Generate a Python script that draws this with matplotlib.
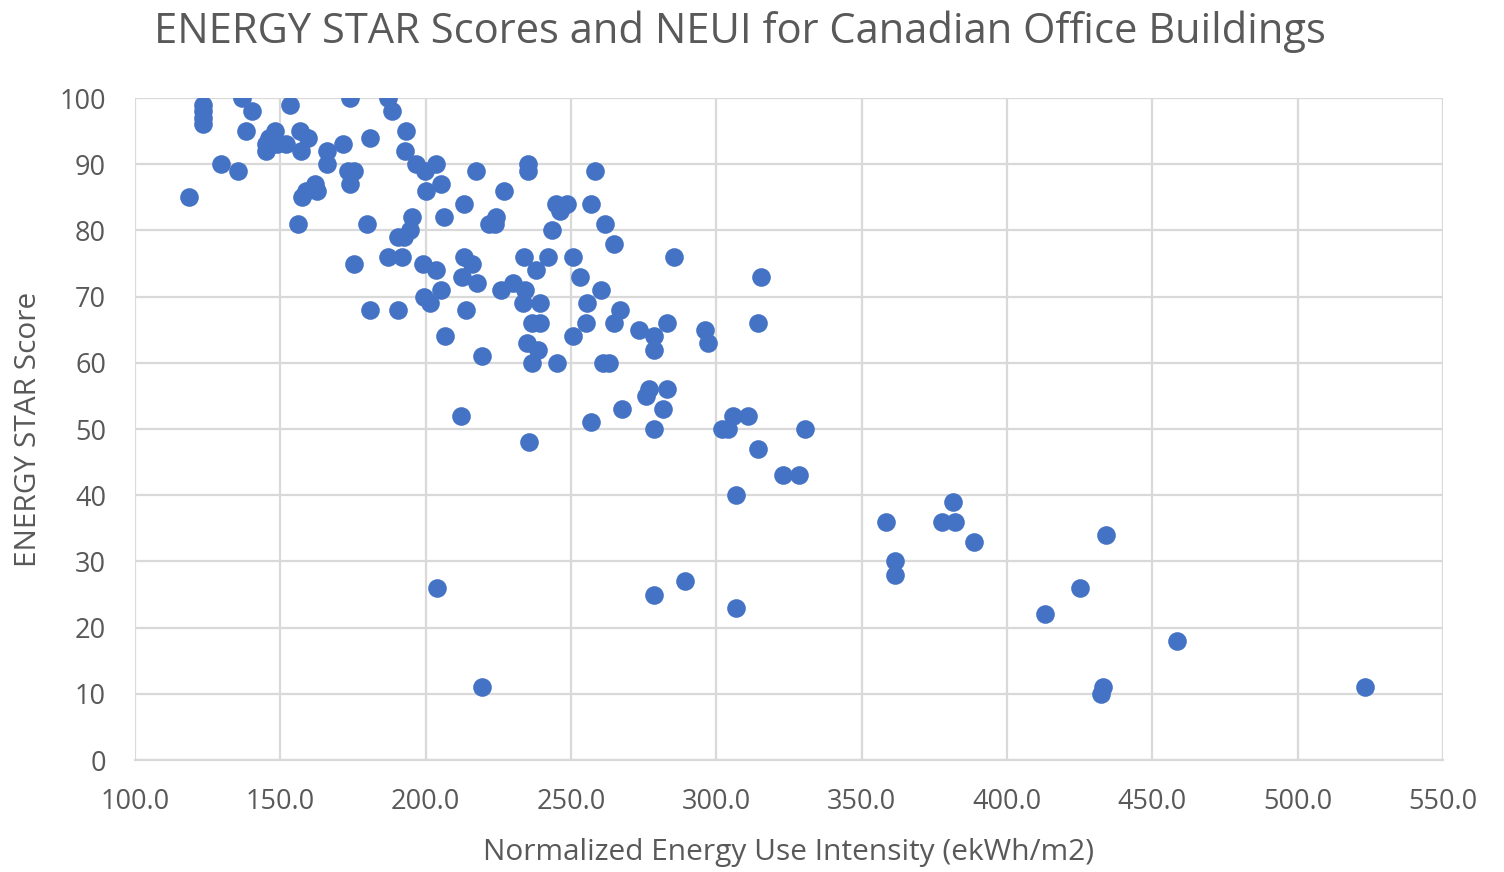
import matplotlib

matplotlib.use("Agg")

import matplotlib.pyplot as plt
import numpy as np
from matplotlib.ticker import FormatStrFormatter

# Normalized energy use intensity (ekWh/m2) and ENERGY STAR score
neui = [
    118.6, 123.4, 123.4, 123.4, 123.4, 136.8, 140.2, 138.0, 129.6, 135.4,
    145.0, 145.0, 147.0, 148.0, 149.0, 152.0, 146.0, 153.4, 156.8, 159.6,
    157.0, 156.0, 157.4, 158.8, 162.0, 162.7, 166.0, 166.0, 171.5, 174.0,
    173.3, 175.3, 174.0, 175.3, 180.8, 179.8, 180.8, 187.0, 188.4, 193.2,
    192.9, 196.7, 199.7, 203.4, 205.1, 200.0, 195.2, 190.4, 192.4, 194.5,
    187.0, 191.8, 198.9, 203.7, 206.2, 190.4, 199.3, 201.4, 205.1, 206.5,
    203.9, 212.1, 213.2, 213.2, 216.0, 212.5, 213.9, 217.3, 217.6, 219.4,
    219.4, 221.8, 224.2, 224.0, 227.0, 226.0, 230.1, 233.9, 234.2, 233.5,
    235.2, 235.2, 234.8, 235.5, 237.9, 236.5, 239.3, 238.6, 236.5, 239.3,
    242.1, 243.5, 244.8, 246.2, 248.6, 245.2, 250.6, 250.6, 253.0, 255.5,
    255.1, 256.8, 256.8, 258.2, 260.3, 261.7, 261.0, 263.1, 264.8, 264.8,
    266.9, 267.6, 273.4, 275.8, 276.8, 278.6, 278.6, 278.6, 278.6, 281.6,
    283.0, 283.0, 285.4, 289.2, 296.1, 297.1, 301.9, 303.9, 305.7, 306.7,
    306.7, 310.9, 314.3, 314.3, 315.3, 322.9, 328.4, 330.6, 358.3, 361.4,
    361.4, 377.6, 382.1, 381.4, 388.6, 413.0, 425.0, 434.0, 432.3, 433.0,
    458.4, 523.1,
]
score = [
    85, 99, 98, 97, 96, 100, 98, 95, 90, 89,
    93, 92, 94, 95, 93, 93, 94, 99, 95, 94,
    92, 81, 85, 86, 87, 86, 92, 90, 93, 100,
    89, 89, 87, 75, 94, 81, 68, 100, 98, 95,
    92, 90, 89, 90, 87, 86, 82, 79, 79, 80,
    76, 76, 75, 74, 82, 68, 70, 69, 71, 64,
    26, 52, 84, 76, 75, 73, 68, 89, 72, 61,
    11, 81, 82, 81, 86, 71, 72, 76, 71, 69,
    90, 89, 63, 48, 74, 66, 66, 62, 60, 69,
    76, 80, 84, 83, 84, 60, 76, 64, 73, 69,
    66, 51, 84, 89, 71, 81, 60, 60, 78, 66,
    68, 53, 65, 55, 56, 64, 62, 50, 25, 53,
    56, 66, 76, 27, 65, 63, 50, 50, 52, 40,
    23, 52, 47, 66, 73, 43, 43, 50, 36, 30,
    28, 36, 36, 39, 33, 22, 26, 34, 10, 11,
    18, 11,
]

TEXT = "#595959"
GRID = "#D9D9D9"

plt.rcParams["font.family"] = ["Open Sans", "DejaVu Sans"]

fig = plt.figure(figsize=(15.04, 8.72), dpi=100)
ax = fig.add_axes([0.0898, 0.1284, 0.8696, 0.7592])

ax.scatter(neui, score, s=180, color="#4472C4", zorder=3, linewidths=0)

ax.set_xlim(100, 550)
ax.set_ylim(0, 100)
ax.set_xticks(np.arange(100, 551, 50))
ax.set_yticks(np.arange(0, 101, 10))
ax.xaxis.set_major_formatter(FormatStrFormatter("%.1f"))
ax.grid(True, color=GRID, linewidth=1.6)
ax.set_axisbelow(True)
for side in ["top", "right", "left"]:
    ax.spines[side].set_visible(False)
ax.spines["bottom"].set_color(GRID)
ax.spines["bottom"].set_linewidth(1.6)
ax.tick_params(length=0, labelsize=19.5, colors=TEXT)
ax.tick_params(axis="x", pad=20)
ax.tick_params(axis="y", pad=21)

ax.set_xlabel("Normalized Energy Use Intensity (ekWh/m2)", fontsize=21.5, color=TEXT, labelpad=16)
ax.set_ylabel("ENERGY STAR Score", fontsize=21.5, color=TEXT, labelpad=12)
fig.suptitle("ENERGY STAR Scores and NEUI for Canadian Office Buildings",
             fontsize=30, color=TEXT, x=0.492, y=0.988)

fig.savefig("out.png", dpi=100, facecolor="white")
